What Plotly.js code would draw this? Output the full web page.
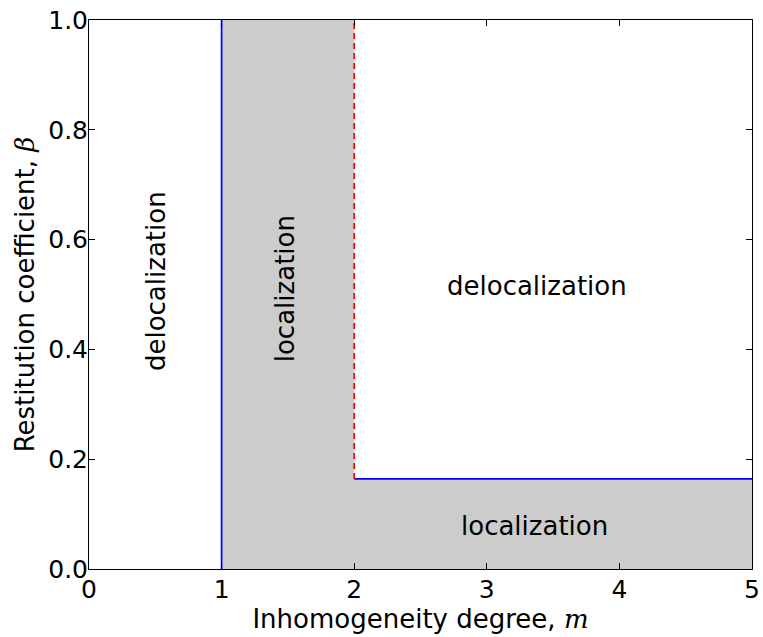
<!DOCTYPE html>
<html>
<head>
<meta charset="utf-8">
<script src="https://cdn.plot.ly/plotly-3.0.1.min.js"></script>
<style>html,body{margin:0;padding:0;background:#fff;}#chart{width:763px;height:637px;}</style>
</head>
<body>
<div id="chart"></div>
<script>
// Phase boundaries
const mFirst = 1;          // vertical boundary (blue)
const mSecond = 2;         // dashed boundary (red)
const mMax = 5;
const betaCrit = 0.164;    // horizontal boundary (blue)
const betaMax = 1;

// Shaded localization region
const locX = [mFirst, mFirst, mSecond, mSecond, mMax, mMax];
const locY = [0, betaMax, betaMax, betaCrit, betaCrit, 0];

// Boundary lines
const blueVX = [mFirst, mFirst];
const blueVY = [0, betaMax];
const blueHX = [mSecond, mMax];
const blueHY = [betaCrit, betaCrit];
const redX = [mSecond, mSecond];
const redY = [betaCrit, betaMax];

// Region labels
const labelText = ['delocalization', 'localization', 'delocalization', 'localization'];
const labelX = [0.5, 1.48, 3.38, 3.36];
const labelY = [0.525, 0.51, 0.515, 0.078];
const labelAngle = [-90, -90, 0, 0];

const xTicks = [0, 1, 2, 3, 4, 5];
const yTicks = [0.0, 0.2, 0.4, 0.6, 0.8, 1.0];

const font = 'DejaVu Sans, sans-serif';

const traces = [
  {x: locX, y: locY, type: 'scatter', mode: 'lines', fill: 'toself',
   fillcolor: '#cccccc', line: {width: 0, color: '#cccccc'}, hoverinfo: 'skip'},
  {x: blueVX, y: blueVY, type: 'scatter', mode: 'lines', line: {color: '#0000ff', width: 1.7}},
  {x: blueHX, y: blueHY, type: 'scatter', mode: 'lines', line: {color: '#0000ff', width: 1.7}},
  {x: redX, y: redY, type: 'scatter', mode: 'lines', line: {color: '#ff0000', width: 1.7, dash: '6px,4px'}}
];

const annotations = labelText.map((t, i) => ({
  x: labelX[i], y: labelY[i], xref: 'x', yref: 'y', text: t, showarrow: false,
  textangle: labelAngle[i], font: {family: font, size: 26, color: '#000'}
}));

const axisCommon = {
  showgrid: false, zeroline: false, showline: true, linecolor: '#000', linewidth: 1,
  mirror: 'allticks', ticks: 'inside', ticklen: 6, tickcolor: '#000', tickwidth: 1,
  tickfont: {family: font, size: 25, color: '#000'}
};

const layout = {
  width: 763, height: 637,
  margin: {l: 89, r: 11, t: 20, b: 68},
  paper_bgcolor: '#fff', plot_bgcolor: '#fff',
  showlegend: false,
  xaxis: Object.assign({}, axisCommon, {
    range: [0, mMax], tickvals: xTicks, ticktext: xTicks.map(String),
    ticklabelstandoff: -2,
    title: {text: 'Inhomogeneity degree, <span style="font-family:DejaVu Serif;font-style:italic">m</span>',
            font: {family: font, size: 26, color: '#000'}, standoff: 0}
  }),
  yaxis: Object.assign({}, axisCommon, {
    range: [0, betaMax], tickvals: yTicks, ticktext: yTicks.map(v => v.toFixed(1)),
    ticklabelstandoff: -5,
    title: {text: 'Restitution coefficient, <span style="font-family:DejaVu Serif;font-style:italic">β</span>',
            font: {family: font, size: 26, color: '#000'}, standoff: 6}
  }),
  annotations: annotations
};

Plotly.newPlot('chart', traces, layout, {displayModeBar: false, staticPlot: true});
</script>
</body>
</html>
